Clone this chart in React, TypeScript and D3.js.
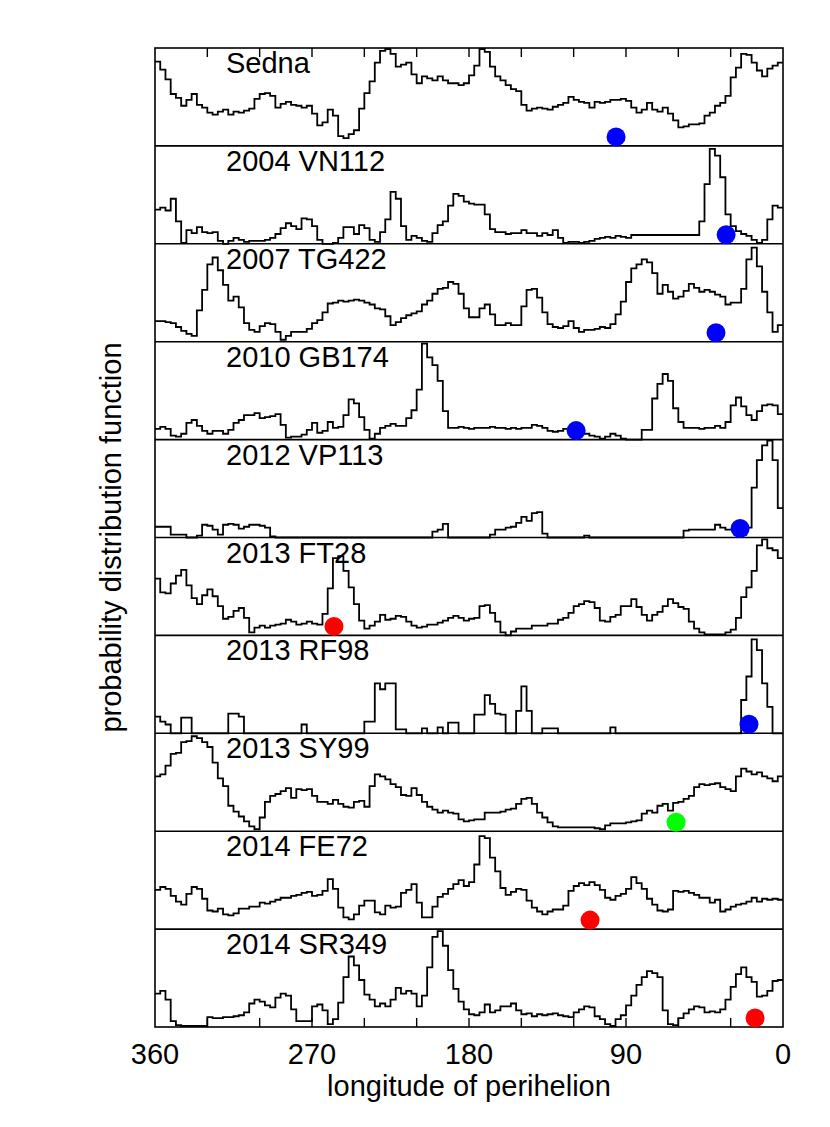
import React from 'react';
import * as d3 from 'd3';

// longitude of perihelion histograms, 3-degree bins starting at 360 and going down to 0
const BIN = 3;

const names = ['Sedna', '2004 VN112', '2007 TG422', '2010 GB174', '2012 VP113', '2013 FT28', '2013 RF98', '2013 SY99', '2014 FE72', '2014 SR349'];
const varpi = [95.7, 32.6, 38.4, 118.6, 24.6, 257.4, 19.5, 61.3, 110.6, 16.0];
const markerKind = ['b', 'b', 'b', 'b', 'b', 'r', 'b', 'g', 'r', 'r'];

const sedna = [
  86, 78, 68, 53, 49, 41, 47, 53, 42, 39, 34, 32, 35, 37, 32, 35, 34, 36, 38, 48,
  53, 54, 51, 39, 43, 45, 42, 41, 39, 41, 33, 21, 24, 37, 31, 10, 8, 12, 16, 38,
  54, 66, 85, 97, 99, 94, 81, 83, 85, 73, 64, 71, 69, 67, 71, 67, 64, 64, 62, 64,
  72, 82, 99, 96, 81, 71, 67, 62, 58, 56, 42, 36, 38, 39, 38, 37, 40, 42, 44, 50,
  47, 45, 44, 39, 45, 44, 45, 47, 47, 48, 46, 39, 34, 37, 44, 37, 35, 39, 33, 26,
  19, 20, 22, 22, 23, 31, 34, 41, 44, 51, 70, 80, 94, 93, 85, 77, 71, 79, 82, 85,
];
const vn112 = [
  35, 37, 34, 46, 23, 1, 14, 11, 17, 12, 11, 12, 3, 0, 3, 6, 4, 2, 3, 3,
  3, 4, 6, 10, 16, 21, 18, 15, 26, 25, 18, 4, 0, 0, 1, 6, 17, 17, 10, 19,
  16, 4, 2, 12, 25, 53, 46, 18, 4, 8, 6, 3, 2, 11, 19, 23, 39, 51, 49, 43,
  41, 40, 40, 30, 15, 12, 12, 10, 11, 11, 14, 11, 11, 8, 11, 9, 14, 6, 1, 2,
  2, 1, 2, 3, 5, 6, 7, 6, 8, 7, 6, 9, 9, 9, 9, 9, 9, 9, 9, 9,
  9, 9, 9, 9, 23, 61, 97, 90, 68, 30, 18, 13, 10, 8, 4, 1, 4, 25, 39, 37,
];
const tg422 = [
  21, 21, 20, 19, 15, 11, 8, 6, 32, 53, 79, 86, 73, 58, 42, 46, 35, 19, 12, 10,
  16, 19, 18, 10, 2, 6, 10, 10, 10, 13, 19, 22, 30, 39, 40, 42, 41, 42, 43, 42,
  40, 38, 34, 33, 26, 17, 20, 24, 27, 29, 31, 38, 42, 49, 54, 55, 61, 59, 49, 34,
  25, 25, 34, 38, 28, 17, 17, 19, 17, 17, 36, 53, 54, 45, 30, 18, 15, 14, 16, 21,
  14, 10, 12, 12, 13, 15, 14, 18, 28, 41, 61, 75, 79, 84, 81, 70, 49, 58, 51, 44,
  46, 52, 59, 55, 51, 53, 51, 48, 46, 38, 40, 40, 54, 84, 96, 77, 51, 30, 10, 17,
];
const gb174 = [
  11, 13, 11, 4, 3, 6, 17, 20, 14, 9, 6, 9, 9, 6, 10, 17, 20, 25, 25, 27,
  22, 23, 24, 26, 15, 2, 3, 3, 5, 10, 17, 7, 9, 18, 12, 13, 25, 41, 37, 23,
  10, 1, 6, 12, 14, 16, 14, 14, 22, 30, 51, 98, 84, 76, 60, 29, 12, 12, 13, 12,
  11, 12, 12, 12, 13, 12, 12, 11, 12, 11, 12, 12, 15, 14, 12, 9, 8, 9, 11, 11,
  10, 10, 6, 4, 3, 1, 3, 6, 4, 1, 0, 0, 0, 10, 10, 42, 57, 67, 60, 32,
  18, 12, 12, 12, 11, 12, 12, 14, 12, 18, 35, 43, 34, 25, 20, 29, 35, 36, 35, 26,
];
const vp113 = [
  11, 11, 11, 3, 3, 3, 0, 0, 2, 13, 12, 8, 3, 13, 14, 13, 9, 11, 13, 13,
  12, 10, 1, 0, 0, 0, 0, 0, 0, 0, 0, 0, 0, 0, 0, 0, 0, 0, 0, 0,
  0, 0, 0, 0, 0, 0, 0, 0, 0, 0, 0, 0, 0, 6, 8, 14, 0, 0, 0, 0,
  0, 0, 0, 0, 3, 8, 8, 10, 11, 15, 21, 17, 25, 26, 4, 0, 0, 0, 0, 0,
  0, 0, 2, 0, 0, 0, 0, 0, 0, 0, 0, 0, 0, 0, 0, 0, 0, 0, 0, 0,
  0, 7, 8, 8, 8, 8, 8, 13, 10, 8, 8, 4, 3, 10, 51, 79, 94, 99, 79, 30,
];
const ft28 = [
  58, 44, 43, 53, 61, 67, 51, 38, 32, 41, 47, 40, 30, 17, 19, 25, 28, 18, 3, 8,
  10, 8, 10, 11, 12, 16, 14, 11, 12, 14, 12, 11, 22, 48, 79, 81, 66, 49, 32, 15,
  7, 10, 14, 21, 16, 17, 20, 19, 14, 10, 8, 9, 11, 11, 13, 15, 18, 20, 18, 15,
  17, 18, 30, 31, 23, 14, 3, 0, 4, 7, 7, 7, 10, 10, 10, 12, 12, 16, 18, 23,
  30, 32, 35, 34, 28, 15, 14, 19, 21, 30, 30, 37, 29, 21, 15, 21, 24, 30, 37, 33,
  29, 27, 14, 7, 3, 1, 1, 1, 1, 3, 6, 18, 39, 49, 66, 92, 98, 89, 87, 79,
];
const rf98 = [
  17, 12, 9, 0, 0, 16, 16, 0, 0, 0, 0, 0, 0, 0, 20, 20, 17, 0, 0, 0,
  0, 0, 0, 0, 0, 0, 0, 0, 9, 0, 0, 0, 0, 0, 0, 0, 0, 0, 0, 0,
  12, 12, 51, 45, 51, 51, 4, 4, 0, 0, 0, 5, 0, 0, 6, 0, 11, 11, 0, 0,
  0, 19, 19, 39, 30, 20, 19, 0, 0, 23, 48, 23, 0, 0, 5, 5, 5, 0, 0, 0,
  0, 0, 0, 0, 0, 0, 0, 6, 0, 0, 0, 0, 0, 0, 0, 0, 0, 0, 0, 0,
  0, 0, 0, 0, 0, 0, 0, 0, 0, 0, 0, 0, 34, 58, 96, 85, 51, 27, 0, 0,
];
const sy99 = [
  56, 58, 67, 79, 80, 91, 92, 97, 95, 91, 86, 70, 54, 46, 26, 20, 15, 10, 5, 2,
  14, 30, 36, 38, 41, 44, 34, 43, 42, 43, 36, 30, 30, 28, 32, 28, 25, 24, 30, 31,
  25, 46, 58, 56, 53, 48, 45, 37, 36, 44, 37, 30, 25, 22, 19, 21, 19, 18, 12, 10,
  11, 12, 12, 19, 19, 19, 20, 22, 23, 28, 33, 34, 28, 19, 14, 9, 5, 4, 4, 4,
  4, 4, 4, 4, 3, 2, 6, 8, 8, 8, 9, 10, 11, 18, 21, 19, 26, 28, 21, 29,
  30, 33, 36, 45, 48, 47, 48, 49, 45, 43, 41, 56, 64, 61, 58, 60, 56, 54, 51, 56,
];
const fe72 = [
  40, 43, 41, 34, 28, 25, 36, 43, 41, 31, 19, 18, 21, 15, 14, 16, 21, 21, 23, 23,
  27, 26, 28, 30, 32, 32, 34, 35, 37, 38, 34, 35, 39, 51, 41, 22, 12, 10, 15, 24,
  29, 29, 17, 15, 24, 22, 23, 37, 40, 46, 27, 12, 12, 23, 33, 36, 41, 46, 50, 44,
  48, 66, 95, 93, 73, 59, 42, 35, 38, 41, 40, 29, 22, 18, 15, 18, 20, 20, 24, 39,
  44, 47, 45, 48, 45, 40, 32, 30, 34, 36, 41, 53, 47, 41, 31, 25, 19, 18, 20, 39,
  38, 39, 37, 35, 32, 32, 27, 30, 18, 20, 23, 25, 26, 28, 32, 28, 31, 30, 31, 30,
];
const sr349 = [
  34, 37, 28, 6, 2, 1, 1, 1, 1, 1, 10, 9, 9, 10, 10, 11, 12, 15, 24, 28,
  26, 22, 20, 30, 34, 32, 18, 6, 6, 6, 21, 23, 17, 3, 8, 25, 51, 72, 63, 48,
  33, 28, 21, 24, 21, 28, 40, 34, 37, 34, 21, 32, 61, 92, 98, 83, 58, 39, 26, 18,
  13, 12, 15, 23, 15, 17, 21, 21, 24, 17, 13, 14, 11, 13, 12, 13, 14, 12, 11, 10,
  15, 18, 21, 20, 11, 8, 3, 1, 8, 12, 22, 32, 43, 51, 57, 55, 51, 17, 3, 2,
  9, 14, 18, 21, 20, 15, 16, 15, 18, 28, 41, 54, 61, 51, 46, 31, 32, 37, 47, 48,
];

const series = [sedna, vn112, tg422, gb174, vp113, ft28, rf98, sy99, fe72, sr349];
const xTicks = [360, 270, 180, 90, 0];

const W = 830;
const H = 1127;
const margin = { left: 155, right: 47, top: 48, bottom: 100 };
const FONT = "'Liberation Sans', Arial, Helvetica, sans-serif";
const FS = 29;
const dotFill: Record<string, string> = { b: '#0000ff', r: '#ff0000', g: '#00ff00' };

export default function App() {
  const innerW = W - margin.left - margin.right;
  const innerBottom = H - margin.bottom;

  const x = d3.scaleLinear().domain([360, 0]).range([margin.left, margin.left + innerW]);
  const band = d3.scaleBand<string>().domain(names).range([margin.top, innerBottom]).paddingInner(0);
  const ph = band.bandwidth();

  const minorTicks = d3.range(30, 360, 30);

  return (
    <div style={{ position: 'absolute', left: 0, top: 0 }}>
      <svg width={W} height={H} style={{ display: 'block', background: '#fff' }}>
        {names.map((name, k) => {
          const y0 = band(name) as number;
          const y = d3.scaleLinear().domain([0, 100]).range([y0 + ph, y0]);
          const vals = series[k];
          const pts: [number, number][] = vals.map((v, i) => [360 - BIN * i, v]);
          pts.push([0, vals[vals.length - 1]]);
          const line = d3
            .line<[number, number]>()
            .x((d) => x(d[0]))
            .y((d) => y(d[1]))
            .curve(d3.curveStepAfter);
          return (
            <g key={name}>
              <path d={line(pts) || ''} fill="none" stroke="#000" strokeWidth={1.8} />
              <text x={226} y={y0 + 25} fontFamily={FONT} fontSize={FS} fill="#000">
                {name}
              </text>
            </g>
          );
        })}

        {/* frame and panel separators */}
        <rect
          x={margin.left}
          y={margin.top}
          width={innerW}
          height={innerBottom - margin.top}
          fill="none"
          stroke="#000"
          strokeWidth={1.6}
        />
        {names.slice(1).map((name) => (
          <line
            key={'sep' + name}
            x1={margin.left}
            x2={margin.left + innerW}
            y1={band(name)}
            y2={band(name)}
            stroke="#000"
            strokeWidth={1.6}
          />
        ))}
        {minorTicks.map((t) => (
          <g key={'t' + t}>
            <line x1={x(t)} x2={x(t)} y1={margin.top} y2={margin.top + 9} stroke="#000" strokeWidth={1.4} />
            <line x1={x(t)} x2={x(t)} y1={innerBottom} y2={innerBottom - 9} stroke="#000" strokeWidth={1.4} />
          </g>
        ))}

        {/* perihelion markers */}
        {names.map((name, k) => {
          const y0 = band(name) as number;
          return <circle key={'c' + name} cx={x(varpi[k])} cy={y0 + ph - 9} r={9.5} fill={dotFill[markerKind[k]]} />;
        })}

        {xTicks.map((t) => (
          <text key={'xl' + t} x={x(t)} y={innerBottom + 37} textAnchor="middle" fontFamily={FONT} fontSize={FS}>
            {t}
          </text>
        ))}
        <text x={x(180)} y={innerBottom + 69} textAnchor="middle" fontFamily={FONT} fontSize={FS}>
          longitude of perihelion
        </text>
        <text
          transform={`translate(121,${(margin.top + innerBottom) / 2}) rotate(-90)`}
          textAnchor="middle"
          fontFamily={FONT}
          fontSize={FS}
        >
          probability distribution function
        </text>
      </svg>
    </div>
  );
}
